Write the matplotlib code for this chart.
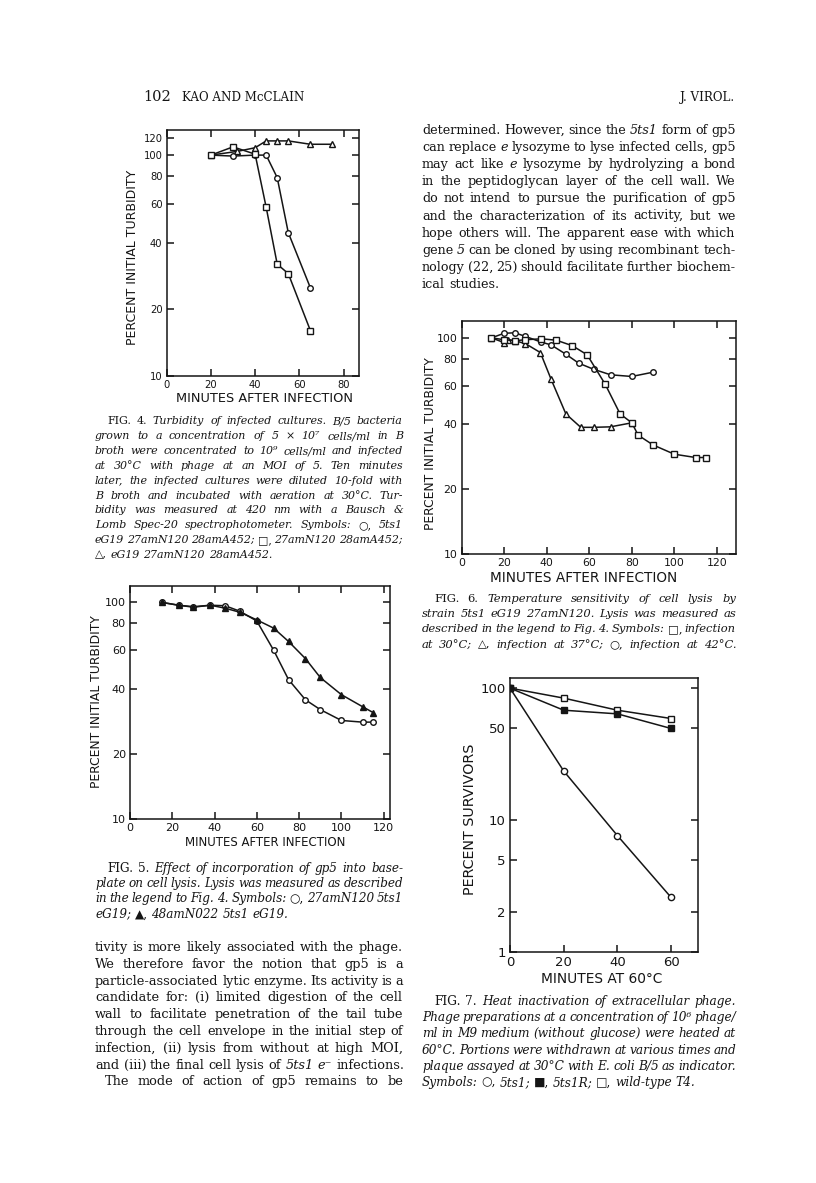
import matplotlib
matplotlib.use("Agg")
import matplotlib.pyplot as plt
from matplotlib.ticker import FixedLocator, FixedFormatter, NullLocator

W, H = 816, 1183
INK = "#151515"
SERIF = ["DejaVu Serif", "DejaVu Sans"]
SANS = ["DejaVu Sans"]

# ---- data ----
# Fig. 4  turbidity of infected cultures
f4_circ_x = [20, 30, 40, 45, 50, 55, 65]
f4_circ_y = [100, 99, 100, 100, 79, 44.5, 25]
f4_sq_x = [20, 30, 40, 45, 50, 55, 65]
f4_sq_y = [100, 109, 101, 58, 32, 29, 16]
f4_tri_x = [20, 32, 40, 45, 50, 55, 65, 75]
f4_tri_y = [100, 104, 108, 116, 116, 116, 112, 112]

# Fig. 5  gp5 incorporation
f5_circ_x = [15, 23, 30, 38, 45, 52, 60, 68, 75, 83, 90, 100, 110, 115]
f5_circ_y = [100, 97, 95.5, 97, 96.5, 91, 82, 60, 44, 35.5, 32, 28.5, 28, 28]
f5_tri_x = [15, 23, 30, 38, 45, 52, 60, 68, 75, 83, 90, 100, 110, 115]
f5_tri_y = [100, 97, 95, 97, 94, 90, 83, 76, 66, 55, 45, 37.5, 33, 31]

# Fig. 6  temperature sensitivity
f6_sq_x = [14, 20, 25, 30, 37.5, 44.5, 52, 59, 67.5, 74.5, 80, 83, 90, 100, 110, 115]
f6_sq_y = [100, 98, 97, 98, 99, 97.5, 92, 83.5, 61, 44.5, 40.5, 35.5, 32, 29, 28, 28]
f6_circ_x = [14, 20, 25, 30, 37.5, 42, 49, 55, 62, 70, 80, 90]
f6_circ_y = [100, 105, 105.5, 101.5, 95.5, 92.8, 84, 76.4, 71.6, 67.5, 66.3, 69.4]
f6_tri_x = [14, 20, 22, 25, 30, 37, 42, 49, 56, 62, 70, 80]
f6_tri_y = [100, 95, 98, 97, 94, 85.5, 64.5, 44.5, 38.6, 38.6, 38.8, 40.5]

# Fig. 7  heat inactivation
f7_x = [0, 20, 40, 60]
f7_wild_y = [100, 84, 68, 58.8]
f7_ts1r_y = [100, 68, 63.8, 49.4]
f7_ts1_y = [100, 23.5, 7.6, 2.58]

turb_ticks = [10, 20, 40, 60, 80, 100]
turb_labels = ["10", "20", "40", "60", "80", "100"]
surv_ticks = [1, 2, 5, 10, 50, 100]
surv_labels = ["1", "2", "5", "10", "50", "100"]

# ---- text ----
header_page = "102"
header_authors = "KAO AND McCLAIN"
header_journal = "J. VIROL."

right_body = [
    "determined. However, since the |5ts1 form of gp5",
    "can replace |e lysozyme to lyse infected cells, gp5",
    "may act like |e lysozyme by hydrolyzing a bond",
    "in the peptidoglycan layer of the cell wall. We",
    "do not intend to pursue the purification of gp5",
    "and the characterization of its activity, but we",
    "hope others will. The apparent ease with which",
    "gene |5 can be cloned by using recombinant tech-",
    "nology (22, 25) should facilitate further biochem-",
    "ical studies.",
]
left_body = [
    "tivity is more likely associated with the phage.",
    "We therefore favor the notion that gp5 is a",
    "particle-associated lytic enzyme. Its activity is a",
    "candidate for: (i) limited digestion of the cell",
    "wall to facilitate penetration of the tail tube",
    "through the cell envelope in the initial step of",
    "infection, (ii) lysis from without at high MOI,",
    "and (iii) the final cell lysis of |5ts1 |e\u207b infections.",
]
left_body_next = ["The mode of action of gp5 remains to be"]

cap4 = [
    "|FIG. |4. Turbidity of infected cultures. B/5 bacteria",
    "grown to a concentration of 5 \u00d7 10\u2077 cells/ml in B",
    "broth were concentrated to 10\u2079 cells/ml and infected",
    "at 30\u00b0C with phage at an MOI of 5. Ten minutes",
    "later, the infected cultures were diluted 10-fold with",
    "B broth and incubated with aeration at 30\u00b0C. Tur-",
    "bidity was measured at 420 nm with a Bausch &",
    "Lomb Spec-20 spectrophotometer. Symbols: |\u25cb, 5ts1",
    "eG19 27amN120 28amA452; |\u25a1, 27amN120 28amA452;",
    "|\u25b3, eG19 27amN120 28amA452.",
]
cap5 = [
    "|FIG. |5. Effect of incorporation of gp5 into base-",
    "plate on cell lysis. Lysis was measured as described",
    "in the legend to Fig. 4. Symbols: |\u25cb, 27amN120 5ts1",
    "eG19; |\u25b2, 48amN022 5ts1 eG19.",
]
cap6 = [
    "|FIG. |6. Temperature sensitivity of cell lysis by",
    "strain 5ts1 eG19 27amN120. Lysis was measured as",
    "described in the legend to Fig. 4. Symbols: |\u25a1, infection",
    "at 30\u00b0C; |\u25b3, infection at 37\u00b0C; |\u25cb, infection at 42\u00b0C.",
]
cap7 = [
    "|FIG. |7. Heat inactivation of extracellular phage.",
    "Phage preparations at a concentration of 10\u2076 phage/",
    "ml in M9 medium (without glucose) were heated at",
    "60\u00b0C. Portions were withdrawn at various times and",
    "plaque assayed at 30\u00b0C with E. coli B/5 as indicator.",
    "Symbols: |\u25cb, 5ts1; |\u25a0, 5ts1R; |\u25a1, wild-type T4.",
]

fig = plt.figure(figsize=(W / 100, H / 100), dpi=100)
fig.patch.set_facecolor("white")
renderer = fig.canvas.get_renderer()


def fx(x):
    return x / W


def fy(y):
    return 1 - y / H


def width_of(t):
    return t.get_window_extent(renderer).width


def text_block(lines, x0, x1, y0, dy, size, base, indent=0, justify_last=False):
    alt = {"normal": "italic", "italic": "normal"}
    rows = []
    for line in lines:
        items = []
        for w in line.split():
            st = base
            if w.startswith("|"):
                w, st = w[1:], alt[base]
            items.append(fig.text(0, 0, w, fontsize=size, family=SERIF,
                                  style=st, color=INK, va="baseline"))
        rows.append(items)
    a = fig.text(0, 0, "n n", fontsize=size, family=SERIF, style=base)
    b = fig.text(0, 0, "nn", fontsize=size, family=SERIF, style=base)
    sp = width_of(a) - width_of(b)
    a.remove()
    b.remove()
    widths = [[width_of(t) for t in r] for r in rows]
    # shrink the whole block if any line is too wide
    scale = 1.0
    for i, r in enumerate(widths):
        ind = indent if i == 0 else 0
        nat = sum(r) + sp * 0.75 * (len(r) - 1) + ind
        scale = min(scale, (x1 - x0) / nat)
    if scale < 1:
        for r in rows:
            for t in r:
                t.set_fontsize(size * scale)
        widths = [[w * scale for w in r] for r in widths]
        sp *= scale
    n = len(rows)
    for i, (r, ws) in enumerate(zip(rows, widths)):
        x = x0 + (indent if i == 0 else 0)
        gap = sp
        if (i < n - 1 or justify_last) and len(r) > 1:
            gap = (x1 - x - sum(ws)) / (len(r) - 1)
        y = y0 + i * dy
        for t, w in zip(r, ws):
            t.set_position((fx(x), fy(y)))
            x += w + gap
    return size * scale


def fit_label(x, y, s, length, rotation=0):
    t = fig.text(fx(x), fy(y), s, fontsize=10, family=SANS, color=INK,
                 ha="center", va="center")
    t.set_fontsize(10 * length / width_of(t))
    t.set_rotation(rotation)
    return t


def make_axes(l, t, r, b, xlim, ylim, xticks, yticks, ylabels, tsize, top=True):
    ax = fig.add_axes([fx(l), fy(b), (r - l) / W, (b - t) / H])
    ax.set_yscale("log")
    ax.set_xlim(*xlim)
    ax.set_ylim(*ylim)
    ax.xaxis.set_major_locator(FixedLocator(xticks))
    ax.xaxis.set_major_formatter(FixedFormatter([str(v) for v in xticks]))
    ax.yaxis.set_major_locator(FixedLocator(yticks))
    ax.yaxis.set_major_formatter(FixedFormatter(ylabels))
    ax.yaxis.set_minor_locator(NullLocator())
    ax.xaxis.set_minor_locator(NullLocator())
    ax.tick_params(which="major", direction="in", length=5, width=1.1,
                   top=top, right=True, labelsize=tsize, pad=3,
                   colors=INK)
    for lab in ax.get_xticklabels() + ax.get_yticklabels():
        lab.set_family(SANS)
    for s in ax.spines.values():
        s.set_linewidth(1.1)
        s.set_color(INK)
    return ax


line_kw = dict(color=INK, lw=1.1, mew=1.0)

# ---- Fig. 4 ----
ax4 = make_axes(166.7, 130, 359, 375.5, (0, 87), (10, 130), [0, 20, 40, 60, 80],
                [10, 20, 40, 60, 80, 100, 120],
                ["10", "20", "40", "60", "80", "100", "120"], 7.2)
ax4.plot(f4_tri_x, f4_tri_y, marker="^", ms=4.2, mfc="white", **line_kw)
ax4.plot(f4_circ_x, f4_circ_y, marker="o", ms=4, mfc="white", **line_kw)
ax4.plot(f4_sq_x, f4_sq_y, marker="s", ms=3.8, mfc="white", **line_kw)
fit_label(133, 257, "PERCENT INITIAL TURBIDITY", 175, rotation=90)
fit_label(265, 399, "MINUTES AFTER INFECTION", 176)

# ---- Fig. 5 ----
ax5 = make_axes(130, 586, 390, 819, (0, 123), (10, 119), [0, 20, 40, 60, 80, 100, 120],
                turb_ticks, turb_labels, 8)
ax5.plot(f5_circ_x, f5_circ_y, marker="o", ms=4, mfc="white", **line_kw)
ax5.plot(f5_tri_x, f5_tri_y, marker="^", ms=4.5, mfc=INK, **line_kw)
fit_label(97, 702, "PERCENT INITIAL TURBIDITY", 172, rotation=90)
fit_label(265, 843, "MINUTES AFTER INFECTION", 161)

# ---- Fig. 6 ----
ax6 = make_axes(461.7, 320.7, 736, 554.3, (0, 129), (10, 120), [0, 20, 40, 60, 80, 100, 120],
                turb_ticks, turb_labels, 7.8)
ax6.plot(f6_tri_x, f6_tri_y, marker="^", ms=4, mfc="white", **line_kw)
ax6.plot(f6_circ_x, f6_circ_y, marker="o", ms=4, mfc="white", **line_kw)
ax6.plot(f6_sq_x, f6_sq_y, marker="s", ms=3.8, mfc="white", **line_kw)
fit_label(430, 444, "PERCENT INITIAL TURBIDITY", 172, rotation=90)
fit_label(584, 578, "MINUTES AFTER INFECTION", 186)

# ---- Fig. 7 ----
ax7 = make_axes(510, 677.7, 698, 951.7, (0, 70), (1, 120), [0, 20, 40, 60],
                surv_ticks, surv_labels, 9.5, top=False)
ax7.plot(f7_x, f7_ts1_y, marker="o", ms=4.5, mfc="white", **line_kw)
ax7.plot(f7_x, f7_wild_y, marker="s", ms=5, mfc="white", **line_kw)
ax7.plot(f7_x, f7_ts1r_y, marker="s", ms=5, mfc=INK, **line_kw)
fit_label(470, 819, "PERCENT SURVIVORS", 152, rotation=90)
fit_label(602, 979, "MINUTES AT 60\u00b0C", 121)

# ---- running header ----
fig.text(fx(143), fy(101), header_page, fontsize=10.5, family=SERIF, color=INK, va="baseline")
fig.text(fx(182), fy(101), header_authors, fontsize=8.6, family=SERIF, color=INK, va="baseline")
fig.text(fx(735), fy(101), header_journal, fontsize=8.6, family=SERIF, color=INK,
         va="baseline", ha="right")

# ---- body text ----
text_block(right_body, 422, 736, 134, 17.1, 10, "normal")
body_size = text_block(left_body, 95, 403, 951, 16.8, 10, "normal")
text_block(left_body_next, 95, 403, 951 + 8 * 16.8, 16.8, body_size, "normal",
           indent=10, justify_last=True)

# ---- captions ----
text_block(cap4, 95, 403, 424.5, 14.8, 9.2, "italic", indent=12)
text_block(cap5, 95, 403, 872, 15.2, 9.2, "italic", indent=12)
text_block(cap6, 422, 736, 602, 15.2, 9.2, "italic", indent=12, justify_last=True)
text_block(cap7, 422, 736, 1005, 16.2, 9.2, "italic", indent=12)

fig.savefig("out.png", dpi=100, facecolor="white")
